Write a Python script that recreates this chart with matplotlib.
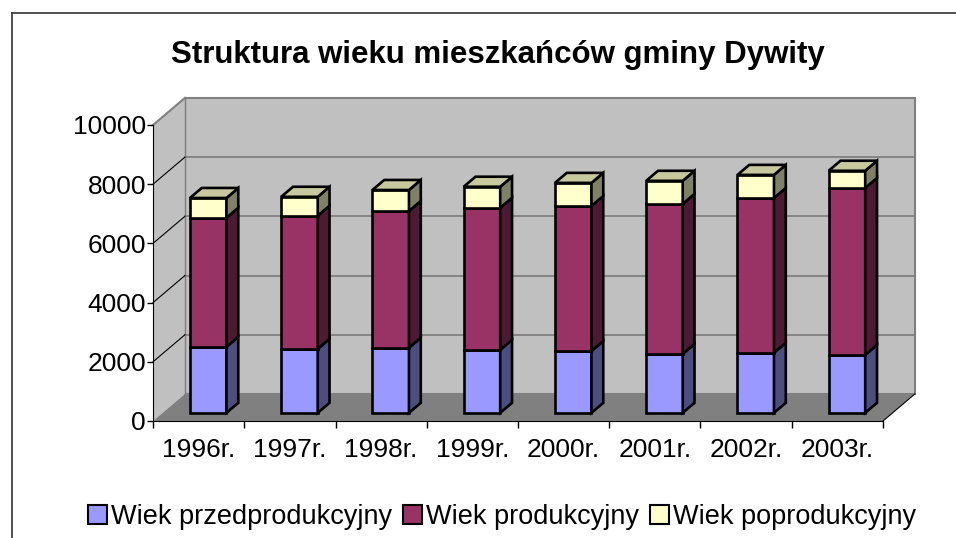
import matplotlib
matplotlib.use('Agg')
import matplotlib.pyplot as plt
from matplotlib.patches import Polygon, Patch

plt.rcParams['font.family'] = ['Liberation Sans', 'DejaVu Sans']

# dane
years = ['1996r.', '1997r.', '1998r.', '1999r.', '2000r.', '2001r.', '2002r.', '2003r.']
przedprod = [2230, 2160, 2200, 2130, 2090, 1990, 2030, 1960]
prod = [4360, 4500, 4620, 4800, 4900, 5070, 5230, 5640]
poprod = [670, 640, 710, 710, 780, 780, 780, 580]
series_names = ['Wiek przedprodukcyjny', 'Wiek produkcyjny', 'Wiek poprodukcyjny']
yticks = [0, 2000, 4000, 6000, 8000, 10000]

front_colors = ['#9999FF', '#993366', '#FFFFCC']
side_colors = ['#4D4D80', '#4D1933', '#808066']
top_colors = ['#7A7ACC', '#7A2952', '#C8C89E']

W, H = 956, 538
fig = plt.figure(figsize=(W / 100, H / 100), dpi=100)
ax = fig.add_axes([153 / W, 1 - 421 / H, 730 / W, 296 / H])
ax.set_xlim(0, len(years))
ax.set_ylim(0, 10000)

# przesuniecie glebi (w jednostkach danych)
DX, DY = 0.35, 915
n = len(years)


def poly(pts, fc, ec='none', lw=0, z=1):
    ax.add_patch(Polygon(pts, closed=True, facecolor=fc, edgecolor=ec,
                         linewidth=lw, clip_on=False, zorder=z, joinstyle='miter'))


# sciany i podloga
poly([(DX, DY), (n + DX, DY), (n + DX, 10000 + DY), (DX, 10000 + DY)], '#C0C0C0', '#808080', 1.5)
poly([(0, 0), (DX, DY), (DX, 10000 + DY), (0, 10000)], '#C0C0C0')
poly([(0, 0), (n, 0), (n + DX, DY), (DX, DY)], '#808080')
ax.plot([0, DX], [10000, 10000 + DY], color='#808080', lw=1.5, clip_on=False, zorder=1.5)
ax.plot([DX, DX], [DY, 10000 + DY], color='#808080', lw=1.0, clip_on=False, zorder=1.5)
for v in yticks[1:-1]:
    ax.plot([DX, n + DX], [v + DY, v + DY], color='#808080', lw=1.3, clip_on=False, zorder=1.5)
    ax.plot([0, DX], [v, v + DY], color='black', lw=0.8, clip_on=False, zorder=1.5)
ax.plot([n, n + DX], [0, DY], color='black', lw=0.8, clip_on=False, zorder=1.5)

# slupki 3D
f0, f1 = 0.3, 0.67
hw = 0.2
for i in range(n):
    x0 = i + 0.5 - hw
    x1 = i + 0.5 + hw
    vals = [przedprod[i], prod[i], poprod[i]]
    bottom = 0
    for k, v in enumerate(vals):
        b, t = bottom, bottom + v
        poly([(x0 + f0 * DX, b + f0 * DY), (x1 + f0 * DX, b + f0 * DY),
              (x1 + f0 * DX, t + f0 * DY), (x0 + f0 * DX, t + f0 * DY)],
             front_colors[k], 'black', 1.9, 3)
        poly([(x1 + f0 * DX, b + f0 * DY), (x1 + f1 * DX, b + f1 * DY),
              (x1 + f1 * DX, t + f1 * DY), (x1 + f0 * DX, t + f0 * DY)],
             side_colors[k], 'black', 1.9, 3)
        if k == len(vals) - 1:
            poly([(x0 + f0 * DX, t + f0 * DY), (x1 + f0 * DX, t + f0 * DY),
                  (x1 + f1 * DX, t + f1 * DY), (x0 + f1 * DX, t + f1 * DY)],
                 top_colors[k], 'black', 1.9, 3)
        bottom = t

# osie
for s in ['top', 'right']:
    ax.spines[s].set_visible(False)
ax.set_facecolor('none')
ax.set_yticks(yticks)
ax.set_yticklabels([str(v) for v in yticks], fontsize=19)
ax.tick_params(axis='y', length=4, width=1, pad=1)
ax.set_xticks(range(n + 1))
ax.set_xticklabels([])
ax.set_xticks([i + 0.5 for i in range(n)], minor=True)
ax.set_xticklabels(years, minor=True, fontsize=19)
ax.tick_params(axis='x', which='major', length=5, width=1)
ax.tick_params(axis='x', which='minor', length=0, pad=12)

fig.text(498 / W, 1 - 63 / H, 'Struktura wieku mieszkańców gminy Dywity',
         ha='center', va='baseline', fontsize=22.5, fontweight='bold')

handles = [Patch(facecolor=c, edgecolor='black', linewidth=1.5) for c in front_colors]
fig.legend(handles, series_names, loc='center', bbox_to_anchor=(502 / W, 1 - 517 / H),
           ncol=3, frameon=False, fontsize=19.5, handlelength=0.7, handleheight=0.7,
           handletextpad=0.15, columnspacing=0.4, borderpad=0)

# ramka wykresu
fig.add_artist(plt.Line2D([12 / W, 1], [1 - 13 / H, 1 - 13 / H], color='#333333', lw=1.2))
fig.add_artist(plt.Line2D([12 / W, 12 / W], [1 - 13 / H, 0], color='#333333', lw=1.2))

fig.savefig('out.png', dpi=100)
